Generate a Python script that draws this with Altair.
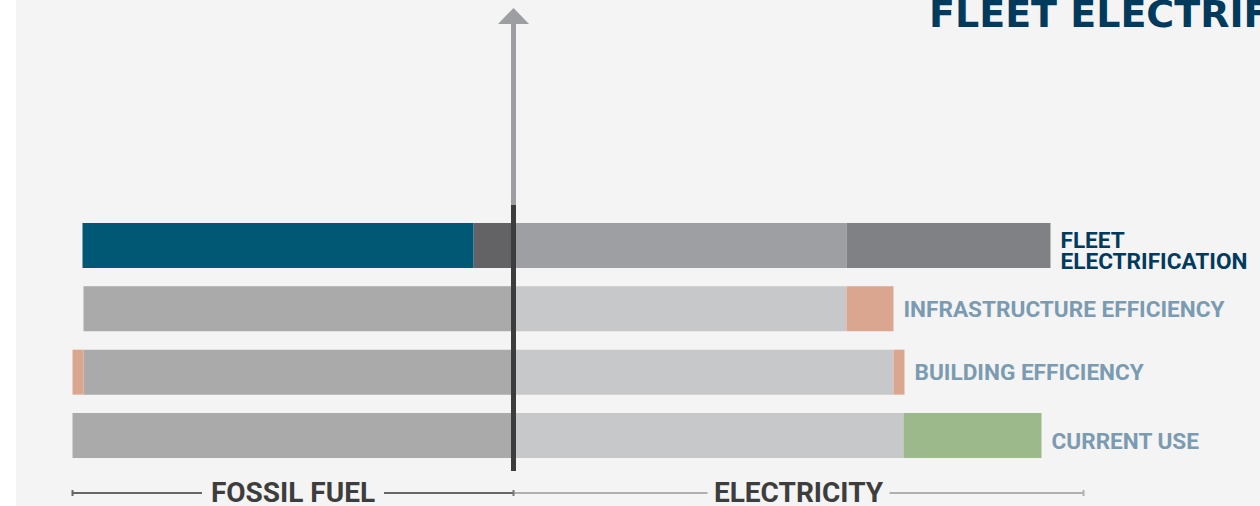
import altair as alt
import pandas as pd

# Energy use per scenario, split left (fossil fuel) and right (electricity) of zero
scenarios = ["FLEET ELECTRIFICATION", "INFRASTRUCTURE EFFICIENCY", "BUILDING EFFICIENCY", "CURRENT USE"]
fossil_remaining = [4.0, 43.0, 43.0, 44.1]
fossil_reduced = [39.1, 0.0, 1.1, 0.0]
electric_remaining = [33.3, 33.3, 38.0, 39.0]
electric_change = [20.4, 4.7, 1.1, 13.8]

fossil_remaining_part = ["Remaining fossil fuel", "Fossil fuel", "Fossil fuel", "Fossil fuel"]
fossil_reduced_part = ["Fleet fuel displaced", "Efficiency savings", "Efficiency savings", "Efficiency savings"]
electric_remaining_part = ["Fleet base electricity", "Electricity", "Electricity", "Electricity"]
electric_change_part = ["Fleet charging", "Efficiency savings", "Efficiency savings", "Renewable supply"]

# Extent of the two bracket axes under the bars
fossil_extent = 44.1
electric_extent = 57.0
side_labels = ["FOSSIL FUEL", "ELECTRICITY"]
title_text = "FLEET ELECTRIFICATION"

# Colours
part_colors = {
    "Fossil fuel": "#aaaaab",
    "Remaining fossil fuel": "#636365",
    "Fleet fuel displaced": "#005874",
    "Efficiency savings": "#dba690",
    "Electricity": "#c7c8ca",
    "Fleet base electricity": "#9e9fa3",
    "Fleet charging": "#808184",
    "Renewable supply": "#9cb98c",
}
BG = "#f4f4f4"
NAVY = "#003a5d"
LABEL_BLUE = "#7a9bb1"
FONT = "Roboto"

# Segment table
rows = []
for i, s in enumerate(scenarios):
    fr, fd = fossil_remaining[i], fossil_reduced[i]
    er, ec = electric_remaining[i], electric_change[i]
    rows.append(dict(scenario=s, part=fossil_remaining_part[i], start=-fr, end=0.0))
    if fd > 0:
        rows.append(dict(scenario=s, part=fossil_reduced_part[i], start=-(fr + fd), end=-fr))
    rows.append(dict(scenario=s, part=electric_remaining_part[i], start=0.0, end=er))
    if ec > 0:
        rows.append(dict(scenario=s, part=electric_change_part[i], start=er, end=er + ec))
segments = pd.DataFrame(rows)

labels = pd.DataFrame({
    "scenario": scenarios,
    "end": [electric_remaining[i] + electric_change[i] for i in range(len(scenarios))],
})

W, H = 1260, 506
x_scale = alt.Scale(domain=[-51.35, 74.65], range=[0, W], nice=False, zero=False)
y_scale = alt.Scale(domain=scenarios, range=[223, 458], paddingInner=0.29, paddingOuter=0)

one = pd.DataFrame({"k": [0]})

background = alt.Chart(one).mark_rect(color=BG).encode(
    x=alt.value(16), x2=alt.value(W), y=alt.value(0), y2=alt.value(H)
)

bars = alt.Chart(segments).mark_bar(cornerRadius=0).encode(
    x=alt.X("start:Q", scale=x_scale, axis=None),
    x2="end:Q",
    y=alt.Y("scenario:N", scale=y_scale, axis=None, sort=scenarios),
    color=alt.Color(
        "part:N",
        scale=alt.Scale(domain=list(part_colors.keys()), range=list(part_colors.values())),
        legend=None,
    ),
)

# Centre divider with arrow
arrow_line = alt.Chart(one).mark_rule(color="#9d9ea2", strokeWidth=5).encode(
    x=alt.datum(0), y=alt.value(22), y2=alt.value(206)
)
arrow_head = alt.Chart(one).mark_point(
    shape="M-1,0.52L0,-0.52L1,0.52Z", filled=True, color="#9d9ea2", opacity=1, size=961
).encode(x=alt.datum(0), y=alt.value(16))
divider = alt.Chart(one).mark_rule(color="#3d3d3d", strokeWidth=5).encode(
    x=alt.datum(0), y=alt.value(205), y2=alt.value(471)
)

# Row labels
LABEL_SIZE = 22.6
fleet_label = alt.Chart(labels).transform_filter(
    alt.datum.scenario == scenarios[0]
).mark_text(
    align="left", baseline="alphabetic", dx=10, dy=2.5, font=FONT, fontWeight="bold",
    fontSize=LABEL_SIZE, lineHeight=21, color=NAVY, lineBreak="\n",
).encode(
    x=alt.X("end:Q", scale=x_scale), y=alt.Y("scenario:N", scale=y_scale, sort=scenarios),
    text=alt.value("FLEET\nELECTRIFICATION"),
)
mid_labels = alt.Chart(labels).transform_filter(
    alt.FieldOneOfPredicate(field="scenario", oneOf=scenarios[1:3])
).mark_text(
    align="left", baseline="alphabetic", dx=10, dy=8, font=FONT, fontWeight="bold",
    fontSize=LABEL_SIZE, color=LABEL_BLUE,
).encode(
    x=alt.X("end:Q", scale=x_scale), y=alt.Y("scenario:N", scale=y_scale, sort=scenarios),
    text="scenario:N",
)
current_label = alt.Chart(labels).transform_filter(
    alt.datum.scenario == scenarios[3]
).mark_text(
    align="left", baseline="alphabetic", dx=10, dy=13.5, font=FONT, fontWeight="bold",
    fontSize=LABEL_SIZE, color=LABEL_BLUE,
).encode(
    x=alt.X("end:Q", scale=x_scale), y=alt.Y("scenario:N", scale=y_scale, sort=scenarios),
    text="scenario:N",
)

# Bracket axes under the bars, broken around their labels
gap = 9.1
fossil_mid = -fossil_extent / 2
electric_mid = electric_extent / 2
bracket_y = 493
left_segs = pd.DataFrame({"a": [-fossil_extent, fossil_mid + gap], "b": [fossil_mid - gap, 0.0]})
right_segs = pd.DataFrame({"a": [0.0, electric_mid + gap], "b": [electric_mid - gap, electric_extent]})

left_line = alt.Chart(left_segs).mark_rule(color="#666666", strokeWidth=2).encode(
    x=alt.X("a:Q", scale=x_scale), x2="b:Q", y=alt.value(bracket_y)
)
right_line = alt.Chart(right_segs).mark_rule(color="#b0b0b0", strokeWidth=2).encode(
    x=alt.X("a:Q", scale=x_scale), x2="b:Q", y=alt.value(bracket_y)
)
ticks = pd.DataFrame({"v": [-fossil_extent, 0.0, electric_extent], "c": ["#666666", "#777777", "#b0b0b0"]})
tick_marks = alt.Chart(ticks).mark_rule(strokeWidth=2).encode(
    x=alt.X("v:Q", scale=x_scale), y=alt.value(bracket_y - 3), y2=alt.value(bracket_y + 3),
    color=alt.Color("c:N", scale=None),
)
side_df = pd.DataFrame({"label": side_labels, "mid": [fossil_mid, electric_mid]})
side_text = alt.Chart(side_df).mark_text(
    align="center", baseline="alphabetic", font=FONT, fontWeight="bold", fontSize=28,
    color="#3d3d3d",
).encode(x=alt.X("mid:Q", scale=x_scale), y=alt.value(501.5), text="label:N")

# Heading, running off the top right corner
title = alt.Chart(pd.DataFrame({"t": [title_text]})).mark_text(
    align="left", baseline="alphabetic", font="DejaVu Sans", fontWeight="bold", fontSize=38,
    color=NAVY,
).encode(x=alt.value(929), y=alt.value(27), text="t:N")

chart = alt.layer(
    background, bars, arrow_line, arrow_head, divider,
    fleet_label, mid_labels, current_label,
    left_line, right_line, tick_marks, side_text, title,
).properties(
    width=W, height=H, padding=0, autosize=alt.AutoSizeParams(type="none"), background="white",
).configure_view(stroke=None)

chart.save("out.html", embed_options={"renderer": "svg", "actions": False})
